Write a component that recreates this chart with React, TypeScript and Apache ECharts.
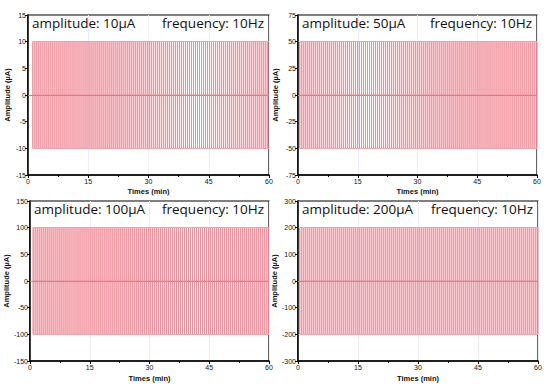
import React, { useEffect, useRef } from "react";
import * as echarts from "echarts";

// ---- data ----
const amplitudes = [10, 50, 100, 200]; // µA
const frequencyLabels = ["10Hz", "10Hz", "10Hz", "10Hz"];
const yLimits = [15, 75, 150, 300];
const yIntervals = [5, 25, 50, 100];
const xTicks = [0, 15, 30, 45, 60]; // minutes
const pulseStartMin = [1.2, 0.45, 0.8, 0.45];
const pulsePeriodMin = 0.5;
const xMax = 60;

// ---- layout (px) ----
const grids = [
  { left: 28, top: 15, width: 241, height: 160 },
  { left: 298, top: 15, width: 239, height: 160 },
  { left: 30, top: 201, width: 239, height: 160 },
  { left: 298, top: 201, width: 240, height: 160 },
];

function pulseTrain(start: number, amp: number): number[][] {
  const pts: number[][] = [];
  for (let t = start; t <= xMax + 1e-9; t += pulsePeriodMin) {
    const tt = Math.round(t * 1000) / 1000;
    pts.push([tt, 0], [tt, amp], [tt, -amp], [tt, 0]);
  }
  return pts;
}

export default function App() {
  const ref = useRef<HTMLDivElement>(null);
  useEffect(() => {
    document.body.style.margin = "0";
    if (!ref.current) return;
    const chart = echarts.init(ref.current, null, { renderer: "svg" });
    const font = "Open Sans";
    const axisFont = { fontSize: 7, color: "#111", fontFamily: "Liberation Sans" };

    const xAxis = grids.map((_, i) => ({
      type: "value",
      gridIndex: i,
      min: xTicks[0],
      max: xMax,
      interval: 15,
      name: "Times (min)",
      nameLocation: "middle",
      nameGap: i < 2 ? 12 : 13,
      nameTextStyle: { ...axisFont, fontWeight: "bold", fontSize: 7.5 },
      axisLine: { show: true, onZero: false, lineStyle: { color: "#000", width: 1.5 } },
      axisTick: { show: true, length: 3, lineStyle: { color: "#000" } },
      minorTick: { show: true, splitNumber: 2, length: 2, lineStyle: { color: "#000" } },
      axisLabel: { ...axisFont, margin: 3 },
      splitLine: { show: true, lineStyle: { color: "#ececf6", width: 1 } },
    }));

    const yAxis = grids.map((_, i) => ({
      type: "value",
      gridIndex: i,
      min: -yLimits[i],
      max: yLimits[i],
      interval: yIntervals[i],
      name: "Amplitude (µA)",
      nameLocation: "middle",
      nameGap: i % 2 === 0 ? 16 : 19,
      nameTextStyle: { ...axisFont, fontWeight: "bold", fontSize: 7.5 },
      axisLine: { show: true, onZero: false, lineStyle: { color: "#000", width: 1.5 } },
      axisTick: { show: true, length: 3, lineStyle: { color: "#000" } },
      axisLabel: { ...axisFont, margin: 2 },
      splitLine: { show: false },
    }));

    const series: any[] = [];
    amplitudes.forEach((amp, i) => {
      series.push({
        type: "line",
        xAxisIndex: i,
        yAxisIndex: i,
        data: pulseTrain(pulseStartMin[i], amp),
        showSymbol: false,
        symbol: "none",
        sampling: undefined,
        lineStyle: { color: "#f18a96", width: 0.9 },
        z: 2,
        markLine: {
          silent: true,
          symbol: "none",
          label: { show: false },
          data: [
            [{ coord: [pulseStartMin[i], amp], lineStyle: { color: "#f5a3ab" } }, { coord: [xMax, amp] }],
            [{ coord: [pulseStartMin[i], -amp], lineStyle: { color: "#f5a3ab" } }, { coord: [xMax, -amp] }],
            [{ coord: [0, 0] }, { coord: [xMax, 0] }],
          ],
          lineStyle: { color: "#ef7480", width: 1, type: "solid" },
        },
      });
    });

    const graphic: any[] = [];
    grids.forEach((g, i) => {
      graphic.push({
        type: "text",
        x: g.left + 4,
        y: g.top + 8,
        z: 50,
        style: {
          text: `amplitude: ${amplitudes[i]}µA`,
          font: `13.5px "${font}"`,
          fill: "#111",
          align: "left",
          verticalAlign: "middle",
          textAlign: "left",
          textVerticalAlign: "middle",
        },
      });
      graphic.push({
        type: "text",
        x: g.left + g.width - 5,
        y: g.top + 8,
        z: 50,
        style: {
          text: `frequency: ${frequencyLabels[i]}`,
          font: `13.5px "${font}"`,
          fill: "#111",
          align: "right",
          verticalAlign: "middle",
          textAlign: "right",
          textVerticalAlign: "middle",
        },
      });
    });
    graphic.push({
      type: "rect",
      shape: { x: 0, y: 195.5, width: 550, height: 2.5 },
      style: { fill: "#fff" },
      z: 100,
    });

    chart.setOption({
      animation: false,
      backgroundColor: "#fff",
      grid: grids.map((g) => ({
        ...g,
        show: true,
        borderColor: "#000",
        borderWidth: 1.2,
        backgroundColor: "transparent",
      })),
      xAxis,
      yAxis,
      series,
      graphic,
    });
    return () => chart.dispose();
  }, []);
  return <div ref={ref} style={{ width: 550, height: 391 }} />;
}
